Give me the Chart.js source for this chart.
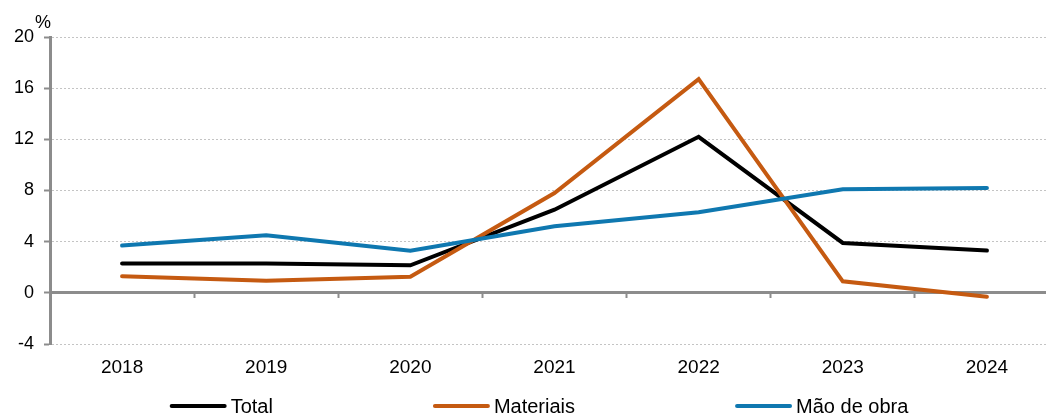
<!DOCTYPE html>
<html lang="pt">
<head>
<meta charset="utf-8">
<title>Custos de construção</title>
<script src="https://cdn.jsdelivr.net/npm/chart.js@4/dist/chart.umd.min.js"></script>
<style>
  html, body { margin: 0; padding: 0; background: #ffffff; overflow: hidden; }
  #wrap { width: 1078px; height: 415px; }
</style>
</head>
<body>
<div id="wrap"><canvas id="chart" width="1078" height="415"></canvas></div>
<script>
// Variação anual (%)
const years = ['2018', '2019', '2020', '2021', '2022', '2023', '2024'];
const total = [2.3, 2.3, 2.15, 6.5, 12.2, 3.9, 3.3];
const materiais = [1.3, 0.95, 1.25, 7.8, 16.7, 0.9, -0.3];
const maoDeObra = [3.7, 4.5, 3.3, 5.2, 6.3, 8.1, 8.2];
const yTicks = [-4, 0, 4, 8, 12, 16, 20];
const seriesNames = ['Total', 'Materiais', 'Mão de obra'];

const colors = { total: '#000000', materiais: '#C55A11', mao: '#0F78B0' };
const axisGrey = '#8C8C8C';
const gridGrey = '#C4C4C4';
const fontFamily = '"Liberation Sans", Arial, sans-serif';

// Unit label above the value axis
const unitLabel = {
  id: 'unitLabel',
  afterDraw(chart) {
    const { ctx, chartArea } = chart;
    ctx.save();
    ctx.font = '18px ' + fontFamily;
    ctx.fillStyle = '#000';
    ctx.textAlign = 'center';
    ctx.textBaseline = 'middle';
    ctx.fillText('%', chartArea.left - 7, chartArea.top - 14);
    ctx.restore();
  }
};

// Legend spread evenly along the bottom edge
const spreadLegend = {
  id: 'spreadLegend',
  afterDraw(chart) {
    const { ctx } = chart;
    const lineLen = 57, textGap = 4, itemGap = 160, y = 406;
    const items = chart.data.datasets.map(ds => ({ text: ds.label, color: ds.borderColor }));
    ctx.save();
    ctx.font = '20px ' + fontFamily;
    const widths = items.map(it => lineLen + textGap + ctx.measureText(it.text).width);
    const totalW = widths.reduce((a, b) => a + b, 0) + itemGap * (items.length - 1);
    let x = chart.width / 2 - totalW / 2;
    items.forEach((it, i) => {
      ctx.strokeStyle = it.color;
      ctx.lineWidth = 4;
      ctx.lineCap = 'round';
      ctx.beginPath();
      ctx.moveTo(x + 2, y);
      ctx.lineTo(x + lineLen - 2, y);
      ctx.stroke();
      ctx.fillStyle = '#000';
      ctx.textAlign = 'left';
      ctx.textBaseline = 'middle';
      ctx.fillText(it.text, x + lineLen + textGap, y + 1);
      x += widths[i] + itemGap;
    });
    ctx.restore();
  }
};

const lineStyle = {
  borderWidth: 4,
  pointRadius: 0,
  pointHoverRadius: 0,
  tension: 0,
  borderCapStyle: 'round',
  fill: false,
  xAxisID: 'x',
  yAxisID: 'y'
};

new Chart(document.getElementById('chart'), {
  type: 'line',
  data: {
    labels: years,
    datasets: [
      { ...lineStyle, label: seriesNames[0], data: total, borderColor: colors.total, backgroundColor: colors.total, order: 3 },
      { ...lineStyle, label: seriesNames[1], data: materiais, borderColor: colors.materiais, backgroundColor: colors.materiais, order: 2 },
      { ...lineStyle, label: seriesNames[2], data: maoDeObra, borderColor: colors.mao, backgroundColor: colors.mao, order: 1 }
    ]
  },
  options: {
    responsive: false,
    animation: false,
    devicePixelRatio: 1,
    layout: { padding: { top: 37, right: 19, left: 0, bottom: 0 } },
    plugins: {
      legend: { display: false },
      tooltip: { enabled: false }
    },
    scales: {
      // category axis drawn along the zero line
      x: {
        type: 'category',
        position: { y: 0 },
        offset: true,
        grid: {
          offset: true,
          drawOnChartArea: false,
          drawTicks: true,
          tickLength: 4,
          tickWidth: 2,
          tickColor: axisGrey
        },
        border: { display: true, color: axisGrey, width: 3 },
        ticks: { display: false }
      },
      // year labels at the bottom
      x2: {
        type: 'category',
        position: 'bottom',
        offset: true,
        grid: { display: false, drawTicks: false },
        border: { display: false },
        ticks: {
          color: '#000',
          font: { family: fontFamily, size: 19 },
          padding: 12,
          maxRotation: 0,
          autoSkip: false
        },
        afterFit(scale) { scale.height = 71; }
      },
      y: {
        type: 'linear',
        min: -4,
        max: 20,
        afterBuildTicks(scale) { scale.ticks = yTicks.map(v => ({ value: v })); },
        grid: {
          color: gridGrey,
          lineWidth: 1,
          drawTicks: true,
          tickLength: 6,
          tickWidth: 2,
          tickColor: axisGrey,
          tickBorderDash: []
        },
        border: { display: true, color: axisGrey, width: 3, dash: [2, 2] },
        ticks: {
          color: '#000',
          font: { family: fontFamily, size: 18 },
          padding: 10
        },
        afterFit(scale) { scale.width = 50; }
      }
    }
  },
  plugins: [unitLabel, spreadLegend]
});
</script>
</body>
</html>
